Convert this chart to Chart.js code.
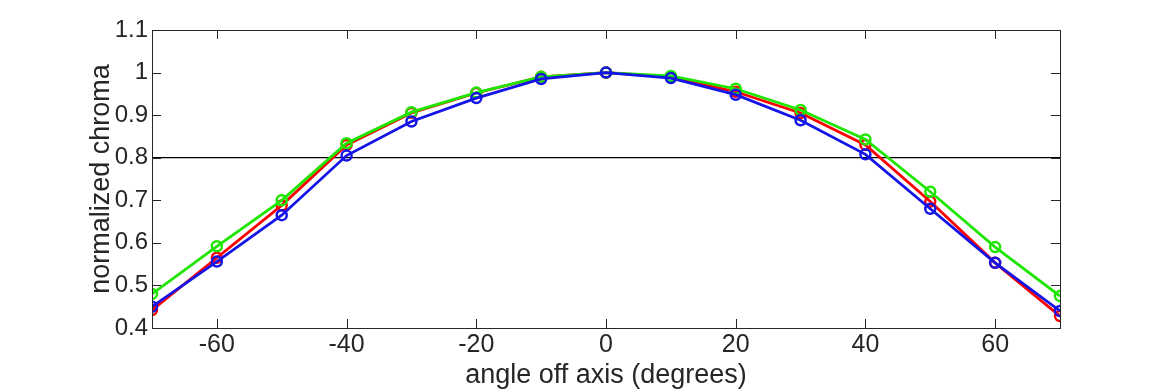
<!DOCTYPE html>
<html>
<head>
<meta charset="utf-8">
<script src="https://cdn.jsdelivr.net/npm/chart.js@4/dist/chart.umd.min.js"></script>
<style>
  html, body { margin: 0; padding: 0; background: #fff; }
  #wrap { width: 1170px; height: 390px; }
</style>
</head>
<body>
<div id="wrap"><canvas id="grafico"></canvas></div>
<script>
const angles = [-70, -60, -50, -40, -30, -20, -10, 0, 10, 20, 30, 40, 50, 60, 70];
const red   = [0.442, 0.565, 0.688, 0.830, 0.905, 0.952, 0.990, 1.0, 0.990, 0.955, 0.905, 0.830, 0.697, 0.553, 0.428];
const green = [0.480, 0.592, 0.700, 0.834, 0.907, 0.953, 0.990, 1.0, 0.992, 0.962, 0.912, 0.843, 0.720, 0.590, 0.475];
const blue  = [0.450, 0.556, 0.665, 0.805, 0.885, 0.940, 0.985, 1.0, 0.987, 0.948, 0.888, 0.808, 0.680, 0.553, 0.440];
const xTicks = [-60, -40, -20, 0, 20, 40, 60];
const yTicks = [0.4, 0.5, 0.6, 0.7, 0.8, 0.9, 1.0, 1.1];
const threshold = 0.8;

const pts = arr => arr.map((v, i) => ({ x: angles[i], y: v }));

function serie(label, data, color, ordem) {
  return {
    label: label,
    data: pts(data),
    order: ordem,
    borderColor: color,
    backgroundColor: 'rgba(0,0,0,0)',
    borderWidth: 2.8,
    pointRadius: 5,
    pointBorderWidth: 2.5,
    pointBorderColor: color,
    pointBackgroundColor: 'rgba(0,0,0,0)',
    tension: 0
  };
}

// caixa + ticks para dentro, estilo matlab
const boxTicks = {
  id: 'boxTicks',
  afterDatasetsDraw(chart) {
    const { ctx, chartArea: a, scales } = chart;
    ctx.save();
    ctx.strokeStyle = '#262626';
    ctx.lineWidth = 1;
    ctx.strokeRect(a.left + 0.5, a.top + 0.5, a.right - a.left, a.bottom - a.top);
    ctx.beginPath();
    xTicks.forEach(t => {
      const x = Math.round(scales.x.getPixelForValue(t)) + 0.5;
      ctx.moveTo(x, a.bottom); ctx.lineTo(x, a.bottom - 9);
      ctx.moveTo(x, a.top); ctx.lineTo(x, a.top + 9);
    });
    yTicks.forEach(t => {
      const y = Math.round(scales.y.getPixelForValue(t)) + 0.5;
      ctx.moveTo(a.left, y); ctx.lineTo(a.left + 9, y);
      ctx.moveTo(a.right, y); ctx.lineTo(a.right - 9, y);
    });
    ctx.stroke();
    ctx.restore();
  }
};

const ctx = document.getElementById('grafico').getContext('2d');
new Chart(ctx, {
  type: 'line',
  data: {
    datasets: [
      {
        label: 'limite',
        data: [{ x: -70, y: threshold }, { x: 70, y: threshold }],
        order: 4,
        borderColor: '#000',
        borderWidth: 1.2,
        pointRadius: 0
      },
      serie('R', red, '#ff0000', 3),
      serie('G', green, '#1ee600', 2),
      serie('B', blue, '#1414e6', 1)
    ]
  },
  options: {
    responsive: true,
    maintainAspectRatio: false,
    animation: false,
    layout: { padding: { top: 30, right: 110, left: 0, bottom: 0 } },
    plugins: { legend: { display: false }, tooltip: { enabled: false } },
    scales: {
      x: {
        type: 'linear',
        min: -70, max: 70,
        afterBuildTicks: s => { s.ticks = xTicks.map(v => ({ value: v })); },
        afterFit: s => { s.height = 62; },
        grid: { display: false, drawTicks: false },
        border: { display: false },
        ticks: {
          color: '#262626',
          font: { family: 'Liberation Sans', size: 25 },
          padding: 2,
          maxRotation: 0,
          callback: v => String(v)
        },
        title: {
          display: true,
          text: 'angle off axis (degrees)',
          color: '#262626',
          font: { family: 'Liberation Sans', size: 27 },
          padding: { top: 0, bottom: -2 }
        }
      },
      y: {
        min: 0.4, max: 1.1,
        afterBuildTicks: s => { s.ticks = yTicks.map(v => ({ value: v })); },
        afterFit: s => { s.width = 152; },
        grid: { display: false, drawTicks: false },
        border: { display: false },
        ticks: {
          color: '#262626',
          font: { family: 'Liberation Sans', size: 24 },
          padding: 4,
          callback: v => String(Number(v.toFixed(1)))
        },
        title: {
          display: true,
          text: 'normalized chroma',
          color: '#262626',
          font: { family: 'Liberation Sans', size: 27 },
          padding: { top: 85, bottom: 0 }
        }
      }
    }
  },
  plugins: [boxTicks]
});
</script>
</body>
</html>
